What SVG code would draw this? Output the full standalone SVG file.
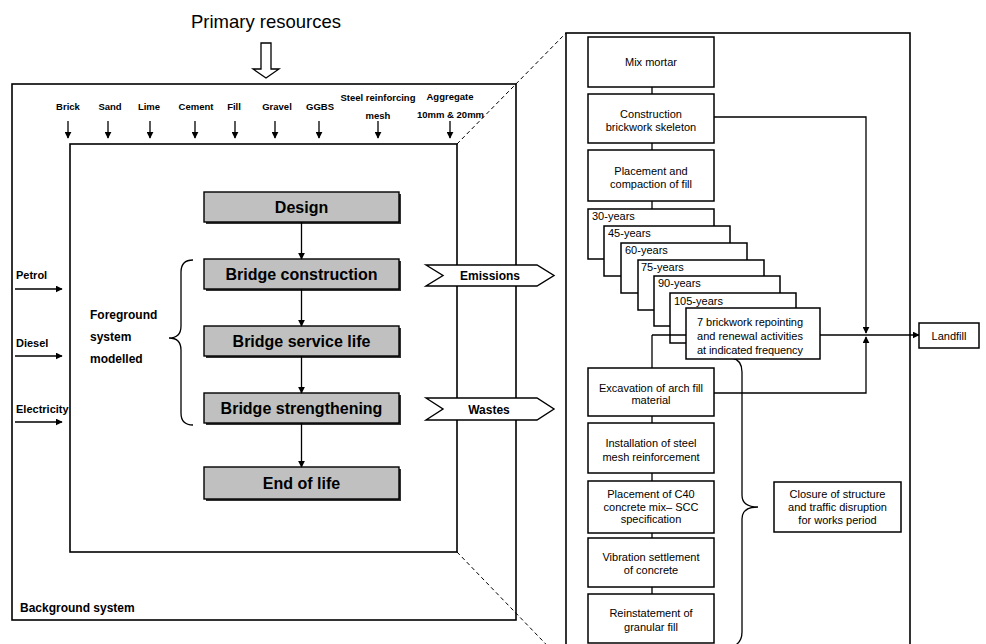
<svg xmlns="http://www.w3.org/2000/svg" width="986" height="644" viewBox="0 0 986 644">
<style>
text{font-family:"Liberation Sans",Arial,sans-serif;fill:#000}
.b{font-weight:bold}
.mat{font-size:9.5px;font-weight:bold;text-anchor:middle}
.en{font-size:11px;font-weight:bold}
.big{font-size:16px;font-weight:bold;text-anchor:middle}
.sm{font-size:11px;text-anchor:middle}
.yr{font-size:11px}
.frame{fill:none;stroke:#000;stroke-width:1.6}
.box{fill:#fff;stroke:#000;stroke-width:1.5}
.gb{fill:#c0c0c0;stroke:#000;stroke-width:1.4}
.sh{fill:#333}
.ln{fill:none;stroke:#000;stroke-width:1.3}
.dash{fill:none;stroke:#000;stroke-width:1;stroke-dasharray:4 3}
.tag{fill:#fff;stroke:#000;stroke-width:1.4}
</style>
<defs>
<marker id="ah" viewBox="0 0 10 10" refX="9" refY="5" markerWidth="7" markerHeight="7" markerUnits="userSpaceOnUse" orient="auto"><path d="M0,0 L10,5 L0,10 z" fill="#000"/></marker>
</defs>
<rect width="986" height="644" fill="#fff"/>

<g id="primary">
<text x="266" y="28" style="font-size:18.5px" text-anchor="middle">Primary resources</text>
<polygon points="261,43 271,43 271,69 279,69 266,78 253,69 261,69" fill="#fff" stroke="#000" stroke-width="1.3"/>
</g>

<g id="background-system">
<rect class="frame" x="12" y="84" width="504" height="536"/>
<text class="b" x="20" y="612" style="font-size:12px">Background system</text>
</g>
<g id="foreground-system">
<rect class="frame" x="70" y="144" width="387" height="408"/>
<text class="b" x="90" y="319" style="font-size:12px">Foreground</text>
<text class="b" x="90" y="341" style="font-size:12px">system</text>
<text class="b" x="90" y="363" style="font-size:12px">modelled</text>
<path class="ln" d="M193,260 Q181,260 181,272 L181,326 Q181,338 169,338 Q181,338 181,350 L181,413 Q181,425 193,425"/>
</g>
<g id="detail-panel">
<rect class="frame" x="566" y="33" width="344" height="650"/>
</g>

<g id="materials">
<text class="mat" x="68" y="110">Brick</text>
<text class="mat" x="110" y="110">Sand</text>
<text class="mat" x="149" y="110">Lime</text>
<text class="mat" x="196" y="110">Cement</text>
<text class="mat" x="234" y="110">Fill</text>
<text class="mat" x="277" y="110">Gravel</text>
<text class="mat" x="320" y="110">GGBS</text>
<text class="mat" x="378" y="100.5">Steel reinforcing</text>
<text class="mat" x="378" y="119">mesh</text>
<text class="mat" x="450" y="100">Aggregate</text>
<text class="mat" x="450.5" y="118">10mm &amp; 20mm</text>
</g>
<g id="energy">
<text class="en" x="16" y="279">Petrol</text>
<text class="en" x="16" y="347">Diesel</text>
<text class="en" x="16" y="413">Electricity</text>
</g>

<g id="design">
<rect class="sh" x="206" y="194" width="195" height="30"/>
<rect class="gb" x="204" y="192" width="195" height="30"/>
<text class="big" x="301.5" y="213">Design</text>
</g>
<g id="bridge-construction">
<rect class="sh" x="206" y="261" width="195" height="30"/>
<rect class="gb" x="204" y="259" width="195" height="30"/>
<text class="big" x="301.5" y="280">Bridge construction</text>
</g>
<g id="bridge-service-life">
<rect class="sh" x="206" y="328" width="195" height="30"/>
<rect class="gb" x="204" y="326" width="195" height="30"/>
<text class="big" x="301.5" y="347">Bridge service life</text>
</g>
<g id="bridge-strengthening">
<rect class="sh" x="206" y="395" width="195" height="30"/>
<rect class="gb" x="204" y="393" width="195" height="30"/>
<text class="big" x="301.5" y="414">Bridge strengthening</text>
</g>
<g id="end-of-life">
<rect class="sh" x="206" y="469" width="195" height="32"/>
<rect class="gb" x="204" y="467" width="195" height="32"/>
<text class="big" x="301.5" y="489">End of life</text>
</g>

<g id="emissions">
<polygon class="tag" points="426,265 443,275.5 426,286 537,286 554,275.5 537,265"/>
<text class="b" x="490" y="279.5" style="font-size:12px" text-anchor="middle">Emissions</text>
</g>
<g id="wastes">
<polygon class="tag" points="426,398 443,409 426,420 537,420 554,409 537,398"/>
<text class="b" x="489" y="413.5" style="font-size:12px" text-anchor="middle">Wastes</text>
</g>

<g id="mix-mortar">
<rect class="box" x="588" y="37" width="126" height="50"/>
<text class="sm" x="651" y="66">Mix mortar</text>
</g>
<g id="construction-brickwork">
<rect class="box" x="588" y="94" width="126" height="49"/>
<text class="sm" x="651" y="118">Construction</text>
<text class="sm" x="651" y="130.5">brickwork skeleton</text>
</g>
<g id="placement-fill">
<rect class="box" x="588" y="150" width="126" height="51"/>
<text class="sm" x="651" y="174.5">Placement and</text>
<text class="sm" x="651" y="187.5">compaction of fill</text>
</g>
<g id="y30">
<rect class="box" x="588" y="209" width="126" height="50"/>
<text class="yr" x="592" y="219.5">30-years</text>
</g>
<g id="y45">
<rect class="box" x="604" y="226" width="126" height="50"/>
<text class="yr" x="608" y="236.5">45-years</text>
</g>
<g id="y60">
<rect class="box" x="621" y="243" width="126" height="50"/>
<text class="yr" x="625" y="253.5">60-years</text>
</g>
<g id="y75">
<rect class="box" x="638" y="260" width="126" height="50"/>
<text class="yr" x="641" y="270.5">75-years</text>
</g>
<g id="y90">
<rect class="box" x="654" y="276" width="126" height="50"/>
<text class="yr" x="658" y="287">90-years</text>
</g>
<g id="y105">
<rect class="box" x="670" y="293" width="126" height="50"/>
<text class="yr" x="674" y="304.5">105-years</text>
</g>

<g id="connectors">
<path class="ln" d="M68,121 V138" marker-end="url(#ah)"/>
<path class="ln" d="M108,121 V138" marker-end="url(#ah)"/>
<path class="ln" d="M150,121 V138" marker-end="url(#ah)"/>
<path class="ln" d="M195,121 V138" marker-end="url(#ah)"/>
<path class="ln" d="M235,121 V138" marker-end="url(#ah)"/>
<path class="ln" d="M275,121 V138" marker-end="url(#ah)"/>
<path class="ln" d="M319,121 V138" marker-end="url(#ah)"/>
<path class="ln" d="M378,121 V138" marker-end="url(#ah)"/>
<path class="ln" d="M450,121 V138" marker-end="url(#ah)"/>
<path class="ln" d="M15,289 H62" marker-end="url(#ah)"/>
<path class="ln" d="M15,356 H62" marker-end="url(#ah)"/>
<path class="ln" d="M15,422 H62" marker-end="url(#ah)"/>
<path class="ln" d="M301.5,222 V259" marker-end="url(#ah)"/>
<path class="ln" d="M301.5,289 V326" marker-end="url(#ah)"/>
<path class="ln" d="M301.5,356 V393" marker-end="url(#ah)"/>
<path class="ln" d="M301.5,423 V467" marker-end="url(#ah)"/>
<path class="dash" d="M457,144 L566,33"/>
<path class="dash" d="M457,552 L566,665"/>
<path class="ln" d="M652,87 V94 M652,143 V150 M652,201 V209"/>
<path class="ln" d="M652,335 H686 M652,335 V368"/>
<path class="ln" d="M652,416 V423 M652,473 V481 M652,533 V538 M652,587 V594"/>
<path class="ln" d="M714,117 H866 V333" marker-end="url(#ah)"/>
<path class="ln" d="M714,393 H866 V337" marker-end="url(#ah)"/>
<path class="ln" d="M820,335 H919" marker-end="url(#ah)"/>
<path class="ln" d="M732,358 Q742,360 742,372 L742,495 Q742,507 758,507 Q742,507 742,519 L742,632 Q742,642 734,646"/>
</g>

<g id="repointing">
<rect class="box" x="686" y="308" width="134" height="51"/>
<text class="yr" x="697" y="326" textLength="106" lengthAdjust="spacing">7 brickwork repointing</text>
<text class="yr" x="697" y="340" textLength="106" lengthAdjust="spacing">and renewal activities</text>
<text class="yr" x="697" y="354" textLength="106" lengthAdjust="spacing">at indicated frequency</text>
</g>
<g id="excavation">
<rect class="box" x="588" y="368" width="126" height="48"/>
<text class="sm" x="651" y="391.5">Excavation of arch fill</text>
<text class="sm" x="651" y="403.5">material</text>
</g>
<g id="installation">
<rect class="box" x="588" y="423" width="126" height="50"/>
<text class="sm" x="651" y="447">Installation of steel</text>
<text class="sm" x="651" y="460.5">mesh reinforcement</text>
</g>
<g id="placement-c40">
<rect class="box" x="588" y="481" width="126" height="52"/>
<text class="sm" x="651" y="498">Placement of C40</text>
<text class="sm" x="651" y="510.5">concrete mix– SCC</text>
<text class="sm" x="651" y="523">specification</text>
</g>
<g id="vibration">
<rect class="box" x="588" y="538" width="126" height="49"/>
<text class="sm" x="651" y="561">Vibration settlement</text>
<text class="sm" x="651" y="573.5">of concrete</text>
</g>
<g id="reinstatement">
<rect class="box" x="588" y="594" width="126" height="49"/>
<text class="sm" x="651" y="617">Reinstatement of</text>
<text class="sm" x="651" y="631">granular fill</text>
</g>
<g id="closure">
<rect class="box" x="774" y="482" width="127" height="50"/>
<text class="sm" x="837.5" y="497.5">Closure of structure</text>
<text class="sm" x="837.5" y="510.5">and traffic disruption</text>
<text class="sm" x="837.5" y="523.5">for works period</text>
</g>
<g id="landfill">
<rect class="box" x="919" y="323" width="60" height="25"/>
<text class="sm" x="949" y="339.5">Landfill</text>
</g>
</svg>
